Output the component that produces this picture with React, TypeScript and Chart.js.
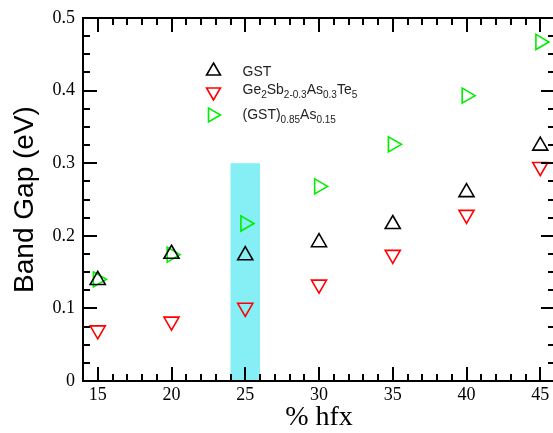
import React, { useEffect, useRef } from "react";
import { Chart, registerables } from "chart.js";

Chart.register(...registerables);

// ---- data ----
const hfx = [15, 20, 25, 30, 35, 40, 45];
const gstGap = [0.139, 0.175, 0.173, 0.191, 0.216, 0.26, 0.324];
const asSubGap = [0.07, 0.082, 0.101, 0.133, 0.174, 0.229, 0.295];
const asAddGap = [0.14, 0.174, 0.217, 0.268, 0.326, 0.393, 0.467];

const xTicks = [15, 20, 25, 30, 35, 40, 45];
const yTicks = [0, 0.1, 0.2, 0.3, 0.4, 0.5];
const xRange = [14, 46];
const yRange = [0, 0.5];
const bandX = [24, 26];
const bandTop = 0.3;

// legend labels: [text, isSubscript]
const legendGST: [string, number][] = [["GST", 0]];
const legendSub: [string, number][] = [
  ["Ge", 0], ["2", 1], ["Sb", 0], ["2-0.3", 1], ["As", 0], ["0.3", 1], ["Te", 0], ["5", 1],
];
const legendAdd: [string, number][] = [["(GST)", 0], ["0.85", 1], ["As", 0], ["0.15", 1]];

const SERIF = "'Liberation Serif', 'Times New Roman', Times, serif";
const SANS = "'Liberation Sans', Arial, Helvetica, sans-serif";
const GREEN = "#00ee00";
const RED = "#ff0000";
const BLACK = "#000000";
const PLOT_RIGHT_MARGIN = 5;

function drawTriangle(ctx: CanvasRenderingContext2D, x: number, y: number, r: number, rotDeg: number, color: string, lw: number) {
  ctx.save();
  ctx.translate(x, y);
  ctx.rotate((rotDeg * Math.PI) / 180);
  ctx.beginPath();
  for (let i = 0; i < 3; i++) {
    const a = (i * 2 * Math.PI) / 3;
    const px = Math.sin(a) * r;
    const py = -Math.cos(a) * r;
    if (i === 0) ctx.moveTo(px, py);
    else ctx.lineTo(px, py);
  }
  ctx.closePath();
  ctx.strokeStyle = color;
  ctx.lineWidth = lw;
  ctx.stroke();
  ctx.restore();
}

function drawRichText(ctx: CanvasRenderingContext2D, parts: [string, number][], x: number, y: number) {
  let cx = x;
  ctx.fillStyle = "#222";
  ctx.textAlign = "left";
  ctx.textBaseline = "alphabetic";
  for (const [t, sub] of parts) {
    ctx.font = sub ? `10px ${SANS}` : `14px ${SANS}`;
    ctx.fillText(t, cx, sub ? y + 4 : y);
    cx += ctx.measureText(t).width;
  }
}

const zeroPad = (s: any) => {
  s.paddingLeft = 0;
  s.paddingRight = 0;
  s.paddingTop = 0;
  s.paddingBottom = 0;
};

const framePlugin = {
  id: "framePlugin",
  afterLayout(chart: any) {
    // extend the plot area to the right edge like the reference (frame runs off the page)
    const xs = chart.scales.x;
    const target = chart.width - PLOT_RIGHT_MARGIN;
    xs.right = target;
    xs.width = target - xs.left;
    xs.configure();
    chart.chartArea.right = target;
    chart.chartArea.width = target - chart.chartArea.left;
  },
  beforeDatasetsDraw(chart: any) {
    const { ctx, scales } = chart;
    const xs = scales.x;
    const ys = scales.y;
    const x0 = xs.getPixelForValue(bandX[0]);
    const x1 = xs.getPixelForValue(bandX[1]);
    const yT = ys.getPixelForValue(bandTop);
    const yB = ys.getPixelForValue(0);
    ctx.save();
    ctx.fillStyle = "#86eff6";
    ctx.fillRect(x0, yT, x1 - x0, yB - yT);
    ctx.restore();
  },
  afterDatasetsDraw(chart: any) {
    const { ctx, chartArea, scales } = chart;
    const xs = scales.x;
    const ys = scales.y;
    const { left, right, top, bottom } = chartArea;
    ctx.save();
    ctx.strokeStyle = "#000";
    ctx.lineCap = "butt";
    for (let v = xRange[0]; v <= xRange[1]; v += 1) {
      const px = Math.round(xs.getPixelForValue(v));
      const len = v % 5 === 0 ? 14 : 7;
      ctx.lineWidth = 2;
      ctx.beginPath();
      ctx.moveTo(px, bottom);
      ctx.lineTo(px, bottom - len);
      ctx.moveTo(px, top);
      ctx.lineTo(px, top + len);
      ctx.stroke();
    }
    for (let i = 0; i <= 20; i++) {
      const py = Math.round(ys.getPixelForValue(i * 0.025));
      const len = i % 4 === 0 ? 14 : 7;
      ctx.lineWidth = 2;
      ctx.beginPath();
      ctx.moveTo(left, py);
      ctx.lineTo(left + len, py);
      ctx.moveTo(right, py);
      ctx.lineTo(right - len, py);
      ctx.stroke();
    }
    ctx.lineWidth = 2;
    ctx.strokeRect(left, top, right - left, bottom - top);
    ctx.restore();

    const ds = chart.data.datasets;
    const rows = [
      { parts: legendGST, sx: 213.5, sy: 71, ty: 75.5, d: ds[0] },
      { parts: legendSub, sx: 213.5, sy: 92, ty: 93.5, d: ds[1] },
      { parts: legendAdd, sx: 212.5, sy: 115, ty: 118.5, d: ds[2] },
    ];
    for (const r of rows) {
      drawTriangle(ctx, r.sx, r.sy, 8, r.d.pointRotation, r.d.pointBorderColor, 1.6);
      drawRichText(ctx, r.parts, 242.5, r.ty);
    }
  },
};

export default function App() {
  const ref = useRef<HTMLCanvasElement | null>(null);

  useEffect(() => {
    if (!ref.current) return;
    const mk = (label: string, ys: number[], color: string, rot: number) => ({
      label,
      data: hfx.map((x, i) => ({ x, y: ys[i] })),
      showLine: false,
      pointStyle: "triangle",
      pointRotation: rot,
      pointRadius: 8.7,
      pointHoverRadius: 8.7,
      pointBorderColor: color,
      pointBackgroundColor: "rgba(0,0,0,0)",
      pointBorderWidth: 1.6,
      clip: false,
    });
    const chart = new Chart(ref.current, {
      type: "scatter",
      data: {
        datasets: [
          mk("GST", gstGap, BLACK, 0),
          mk("Ge2Sb2-0.3As0.3Te5", asSubGap, RED, 180),
          mk("(GST)0.85As0.15", asAddGap, GREEN, 90),
        ],
      },
      options: {
        responsive: false,
        animation: false,
        devicePixelRatio: 1,
        layout: { padding: { top: 18, right: PLOT_RIGHT_MARGIN, left: 0, bottom: 0 } },
        plugins: { legend: { display: false }, tooltip: { enabled: false } },
        scales: {
          x: {
            type: "linear",
            min: xRange[0],
            max: xRange[1],
            afterBuildTicks: (s: any) => {
              s.ticks = xTicks.map((v) => ({ value: v }));
            },
            afterFit: (s: any) => {
              s.height = 52;
              zeroPad(s);
            },
            grid: { display: false, drawTicks: false },
            border: { display: false },
            ticks: { autoSkip: false, maxRotation: 0, padding: 3, color: "#000", font: { family: SERIF, size: 18 } },
            title: { display: true, text: "% hfx", color: "#000", font: { family: SERIF, size: 28, lineHeight: 1 }, padding: { top: 0, bottom: 1 } },
          },
          y: {
            type: "linear",
            min: yRange[0],
            max: yRange[1],
            afterBuildTicks: (s: any) => {
              s.ticks = yTicks.map((v) => ({ value: v }));
            },
            afterFit: (s: any) => {
              s.width = 83;
              zeroPad(s);
            },
            grid: { display: false, drawTicks: false },
            border: { display: false },
            ticks: { padding: 8, color: "#000", font: { family: SERIF, size: 18 } },
            title: { display: true, text: "Band Gap (eV)", color: "#000", font: { family: SANS, size: 28, lineHeight: 1 }, padding: { top: 11, bottom: 0 } },
          },
        },
      },
      plugins: [framePlugin],
    } as any);
    return () => chart.destroy();
  }, []);

  return (
    <div style={{ position: "fixed", left: 0, top: 0, width: 553, height: 433, overflow: "hidden", background: "#fff" }}>
      <canvas ref={ref} width={560} height={433} style={{ display: "block" }} />
    </div>
  );
}
